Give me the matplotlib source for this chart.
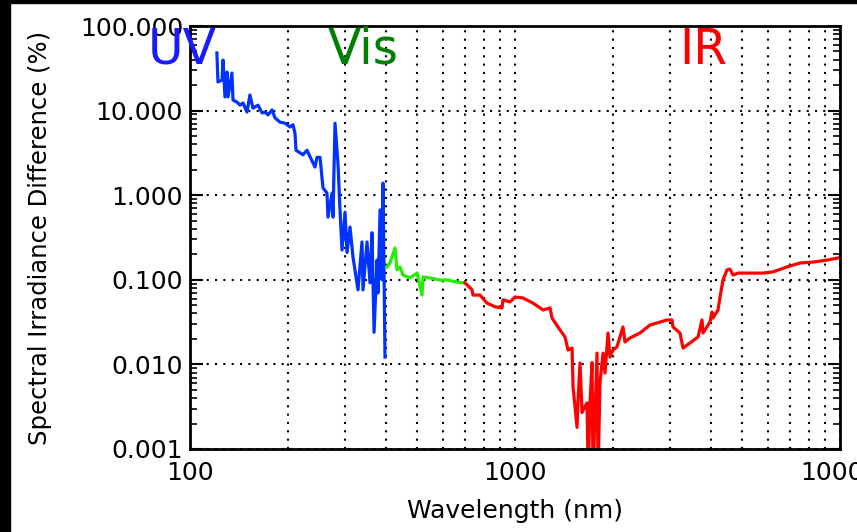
import matplotlib
matplotlib.use("Agg")
import matplotlib.pyplot as plt
from matplotlib.patches import Rectangle
from matplotlib.ticker import NullFormatter, LogLocator

# UV segment (nm, %)
uv_wl = [121.0, 121.9, 125.5, 126.4, 128.1, 130.0, 130.9, 134.6, 135.6, 139.5,
         142.5, 145.6, 149.7, 152.9, 156.2, 161.9, 166.6, 170.1, 173.8, 178.8,
         182.6, 189.2, 196.0, 203.1, 207.4, 210.4, 211.9, 222.7, 229.1, 242.4,
         245.9, 251.2, 256.6, 263.9, 265.8, 273.5, 275.4, 279.4, 285.4, 289.4,
         293.6, 299.9, 304.2, 310.7, 317.3, 328.8, 338.2, 340.7, 350.5, 358.0,
         363.1, 368.4, 376.3, 379.0, 384.4, 389.9, 392.6, 398.1]
uv_val = [48.0, 21.8, 23.0, 39.6, 14.5, 28.6, 14.5, 27.8, 13.3, 12.6,
          11.6, 12.3, 9.6, 15.3, 10.7, 11.6, 9.4, 9.6, 8.9, 10.2,
          8.2, 7.3, 7.1, 6.4, 6.8, 5.4, 3.4, 3.0, 3.4, 2.15,
          2.8, 2.8, 1.22, 1.06, 0.55, 1.06, 0.55, 7.1, 2.3, 0.67,
          0.225, 0.63, 0.21, 0.42, 0.186, 0.076, 0.28, 0.076, 0.28, 0.092,
          0.36, 0.024, 0.171, 0.070, 0.67, 0.10, 1.39, 0.0122]

# visible segment
vis_wl = [403.8, 412.4, 427.3, 433.4, 442.7, 452.2, 475.3, 499.5, 517.4, 521.2,
          547.7, 587.7, 617.7, 663.1, 691.8, 701.7]
vis_val = [0.142, 0.158, 0.238, 0.131, 0.142, 0.114, 0.105, 0.120, 0.066, 0.108,
           0.105, 0.0995, 0.0995, 0.094, 0.092, 0.092]

# infrared segment
ir_wl = [701.7, 737.5, 742.8, 780.4, 820.1, 868.0, 912.0, 918.5, 965.2, 1000,
         1058, 1136, 1220, 1282, 1300, 1376, 1425, 1456, 1498, 1509,
         1552, 1563, 1585, 1608, 1665, 1680, 1701, 1726, 1738, 1788,
         1801, 1826, 1866, 1892, 1933, 1960, 2002, 2059, 2149, 2180,
         2258, 2424, 2603, 2735, 2937, 3041, 3063, 3219, 3288, 3455,
         3657, 3762, 3789, 3981, 4038, 4067, 4214, 4274, 4365, 4491,
         4586, 4686, 4856, 5174, 5796, 6220, 6871, 7533, 8260, 9120, 9858]
ir_val = [0.092, 0.076, 0.066, 0.066, 0.053, 0.048, 0.0465, 0.058, 0.0547, 0.0626,
          0.061, 0.053, 0.044, 0.0465, 0.0353, 0.0255, 0.0211, 0.0148, 0.0156, 0.0054,
          0.0018, 0.0038, 0.0104, 0.0027, 0.0035, 0.0005, 0.0035, 0.0105, 0.0005, 0.0136,
          0.0005, 0.006, 0.0136, 0.0079, 0.0235, 0.0122, 0.0148, 0.0161, 0.0277, 0.0184,
          0.0205, 0.0235, 0.0292, 0.0309, 0.0335, 0.0335, 0.0277, 0.0235, 0.0156, 0.0179,
          0.0211, 0.0335, 0.0235, 0.0317, 0.0416, 0.0353, 0.044, 0.0626, 0.0995, 0.131,
          0.134, 0.114, 0.120, 0.120, 0.120, 0.124, 0.142, 0.158, 0.162, 0.171, 0.181]

y_ticks = [0.001, 0.01, 0.1, 1, 10, 100]
y_labels = ["0.001", "0.010", "0.100", "1.000", "10.000", "100.000"]
x_ticks = [100, 1000, 10000]
x_labels = ["100", "1000", "10000"]

fig = plt.figure(figsize=(8.57, 5.32), dpi=100)
fig.patches.append(Rectangle((0, 0), 10 / 857, 1, transform=fig.transFigure,
                             color="black", zorder=0))
fig.patches.append(Rectangle((0, 1 - 3 / 532), 1, 3 / 532, transform=fig.transFigure,
                             color="black", zorder=0))

ax = fig.add_axes([190 / 857, 1 - 449 / 532, 650 / 857, 423 / 532])
ax.plot(uv_wl, uv_val, color="#0033ff", lw=2.3)
ax.plot(vis_wl, vis_val, color="#22ee00", lw=2.3)
ax.plot(ir_wl, ir_val, color="#ff0000", lw=2.3)

ax.set_xscale("log")
ax.set_yscale("log")
ax.set_xlim(100, 10000)
ax.set_ylim(0.001, 100)

ax.set_xticks(x_ticks)
ax.set_xticklabels(x_labels)
ax.xaxis.set_minor_locator(LogLocator(base=10, subs=range(2, 10)))
ax.xaxis.set_minor_formatter(NullFormatter())
ax.set_yticks(y_ticks)
ax.set_yticklabels(y_labels)
ax.yaxis.set_minor_locator(LogLocator(base=10, subs=range(2, 10)))
ax.yaxis.set_minor_formatter(NullFormatter())

ax.tick_params(axis="x", which="both", length=0, labelsize=18, pad=9)
ax.tick_params(axis="y", which="major", direction="in", length=9, width=1.5,
               left=True, right=True, labelsize=18, pad=5)
ax.tick_params(axis="y", which="minor", direction="in", length=5, width=1.2,
               left=True, right=True)

ax.grid(True, which="major", axis="both", color="black", linestyle=(0, (1, 3)), lw=1.5)
ax.grid(True, which="minor", axis="x", color="black", linestyle=(0, (1, 3)), lw=1.5)
for s in ax.spines.values():
    s.set_linewidth(2)

ax.set_xlabel("Wavelength (nm)", fontsize=18, labelpad=10)
ax.set_ylabel("Spectral Irradiance Difference (%)", fontsize=17.5, labelpad=20)

ax.text(-0.012, 1.0, "UV", transform=ax.transAxes, color="#1a1aff", fontsize=35,
        ha="center", va="top")
ax.text(0.266, 1.0, "Vis", transform=ax.transAxes, color="#008000", fontsize=35,
        ha="center", va="top")
ax.text(0.789, 1.0, "IR", transform=ax.transAxes, color="#ff0000", fontsize=35,
        ha="center", va="top")

fig.savefig("out.png", dpi=100)
